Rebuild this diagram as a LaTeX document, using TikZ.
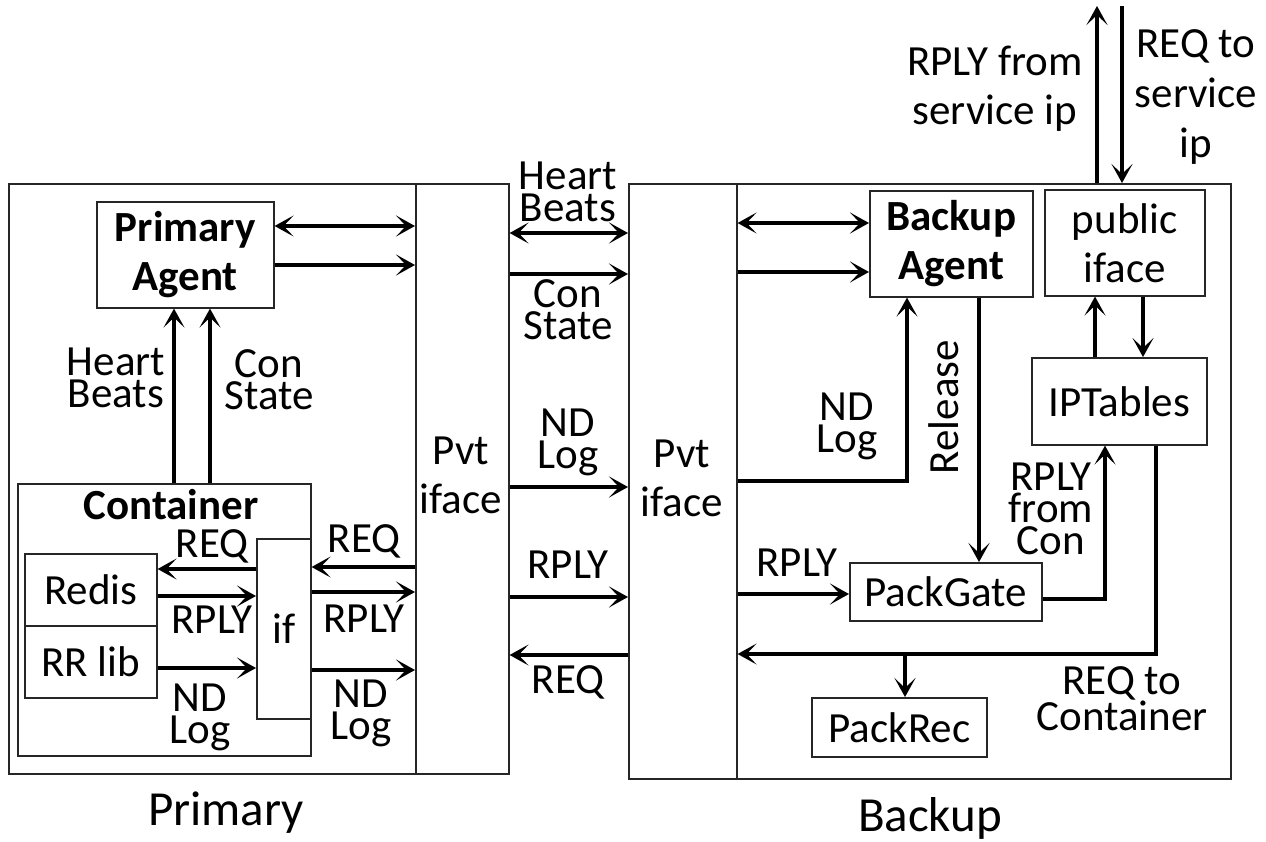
\documentclass[tikz,border=0pt]{standalone}
\usepackage{fontspec}
\setmainfont{Carlito}
\usetikzlibrary{arrows.meta}
\newcommand{\labfont}{\fontsize{43}{32}\selectfont}
\newcommand{\boxfont}{\fontsize{43}{49}\selectfont}
\newcommand{\bigfont}{\fontsize{49}{55}\selectfont}
\begin{document}
\begin{tikzpicture}[x=1pt,y=-1pt,
  box/.style={draw=black!85, line width=1.6pt, inner sep=0pt, align=center, font=\boxfont, anchor=north west},
  lab/.style={align=center, font=\labfont, inner sep=0pt},
  arr/.style={line width=4pt},
  >={Stealth[length=19pt,width=21pt,inset=10pt]}]
\useasboundingbox (0,0) rectangle (1266,842);
% outer frames
\node[box, minimum width=500, minimum height=590] (prim) at (8,183) {};
\node[box, minimum width=93, minimum height=590] (ppvt) at (415,183) {};
\node[box, minimum width=602, minimum height=595] (back) at (628,183) {};
\node[box, minimum width=108, minimum height=595] (bpvt) at (628,183) {};
\node[lab, font=\boxfont] (ppvtt) at (461,475) {Pvt\\iface};
\node[lab, font=\boxfont] (bpvtt) at (682,478) {Pvt\\iface};
% primary side
\node[box, minimum width=177, minimum height=106, font=\boxfont\bfseries] (pagent) at (96,201) {Primary\\Agent};
\node[box, minimum width=293, minimum height=272] (cont) at (17,483) {};
\node[lab, font=\labfont\bfseries] (contt) at (171,505) {Container};
\node[box, minimum width=132, minimum height=72] (redis) at (24,553) {Redis};
\node[box, minimum width=132, minimum height=72] (rrlib) at (24,625) {RR lib};
\node[box, minimum width=54, minimum height=180] (ifbox) at (256,538) {if};
% backup side
\node[box, minimum width=163, minimum height=106, font=\boxfont\bfseries] (bagent) at (869,190) {Backup\\Agent};
\node[box, minimum width=160, minimum height=106] (pub) at (1044,189) {public\\iface};
\node[box, minimum width=175, minimum height=87] (ipt) at (1031,357) {IPTables};
\node[box, minimum width=192, minimum height=58] (pgate) at (849,562) {PackGate};
\node[box, minimum width=175, minimum height=59] (prec) at (811,697) {PackRec};
% primary arrows
\draw[arr,<->] (pagent.east |- 0,226) -- (ppvt.west |- 0,226);
\draw[arr,->] (pagent.east |- 0,265) -- (ppvt.west |- 0,265);
\draw[arr,->] (cont.north -| 174,0) -- (pagent.south -| 174,0);
\draw[arr,->] (cont.north -| 210,0) -- (pagent.south -| 210,0);
\draw[arr,->] (ifbox.west |- 0,569) -- (redis.east |- 0,569);
\draw[arr,->] (redis.east |- 0,596) -- (ifbox.west |- 0,596);
\draw[arr,->] (rrlib.east |- 0,668) -- (ifbox.west |- 0,668);
\draw[arr,->] (ppvt.west |- 0,567) -- (ifbox.east |- 0,567);
\draw[arr,->] (ifbox.east |- 0,592) -- (ppvt.west |- 0,592);
\draw[arr,->] (ifbox.east |- 0,670) -- (ppvt.west |- 0,670);
% middle arrows
\draw[arr,<->] (prim.east |- 0,233) -- (back.west |- 0,233);
\draw[arr,->] (prim.east |- 0,274) -- (back.west |- 0,274);
\draw[arr,->] (prim.east |- 0,487) -- (back.west |- 0,487);
\draw[arr,->] (prim.east |- 0,597) -- (back.west |- 0,597);
\draw[arr,->] (back.west |- 0,655) -- (prim.east |- 0,655);
% backup arrows
\draw[arr,<->] (bpvt.east |- 0,223) -- (bagent.west |- 0,223);
\draw[arr,->] (bpvt.east |- 0,272) -- (bagent.west |- 0,272);
\draw[arr,->] (bpvt.east |- 0,481) -| (bagent.south -| 907,0);
\draw[arr,->] (bagent.south -| 979,0) -- (pgate.north -| 979,0);
\draw[arr,->] (bpvt.east |- 0,594) -- (pgate.west |- 0,594);
\draw[arr,->] (pgate.east |- 0,599) -| (ipt.south -| 1105,0);
\draw[arr,->] (pub.south -| 1143,0) -- (ipt.north -| 1143,0);
\draw[arr,->] (ipt.north -| 1095,0) -- (pub.south -| 1095,0);
\draw[arr,->] (ipt.south -| 1156,0) |- (bpvt.east |- 0,654);
\coordinate (br) at (905,654);
\draw[arr,->] (br) -- (br |- prec.north);
\coordinate (out1) at (1097,6);
\coordinate (in1) at (1122,6);
\draw[arr,->] (back.north -| out1) -- (out1);
\draw[arr,->] (in1) -- (back.north -| in1);
% labels
\node[lab] (l1) at (116,378) {Heart\\Beats};
\node[lab] (l2) at (269,380) {Con\\State};
\node[lab] (l3) at (212,546) {REQ};
\node[lab] (l4) at (212,620) {RPLY};
\node[lab] (l5) at (200,717) {ND\\Log};
\node[lab] (l6) at (364,541) {REQ};
\node[lab] (l7) at (364,619) {RPLY};
\node[lab] (l8) at (361,713) {ND\\Log};
\node[lab] (l9) at (568,192) {Heart\\Beats};
\node[lab] (l10) at (568,310) {Con\\State};
\node[lab] (l11) at (568,442) {ND\\Log};
\node[lab] (l12) at (568,565) {RPLY};
\node[lab] (l13) at (568,682) {REQ};
\node[lab] (l14) at (847,426) {ND\\Log};
\node[lab, rotate=90] (l15) at (944,407) {Release};
\node[lab] (l16) at (797,563) {RPLY};
\node[lab] (l17) at (1051,509) {RPLY\\from\\Con};
\node[lab] (l18) at (1122,699) {REQ to\\Container};
\node[lab, font=\boxfont] (l19) at (995,89) {RPLY from\\service ip};
\node[lab, font=\fontsize{43}{50}\selectfont] (l20) at (1196,97) {REQ to\\service\\ip};
\node[lab, font=\bigfont] (l21) at (226,813) {Primary};
\node[lab, font=\bigfont] (l22) at (930,818) {Backup};
\end{tikzpicture}
\end{document}
